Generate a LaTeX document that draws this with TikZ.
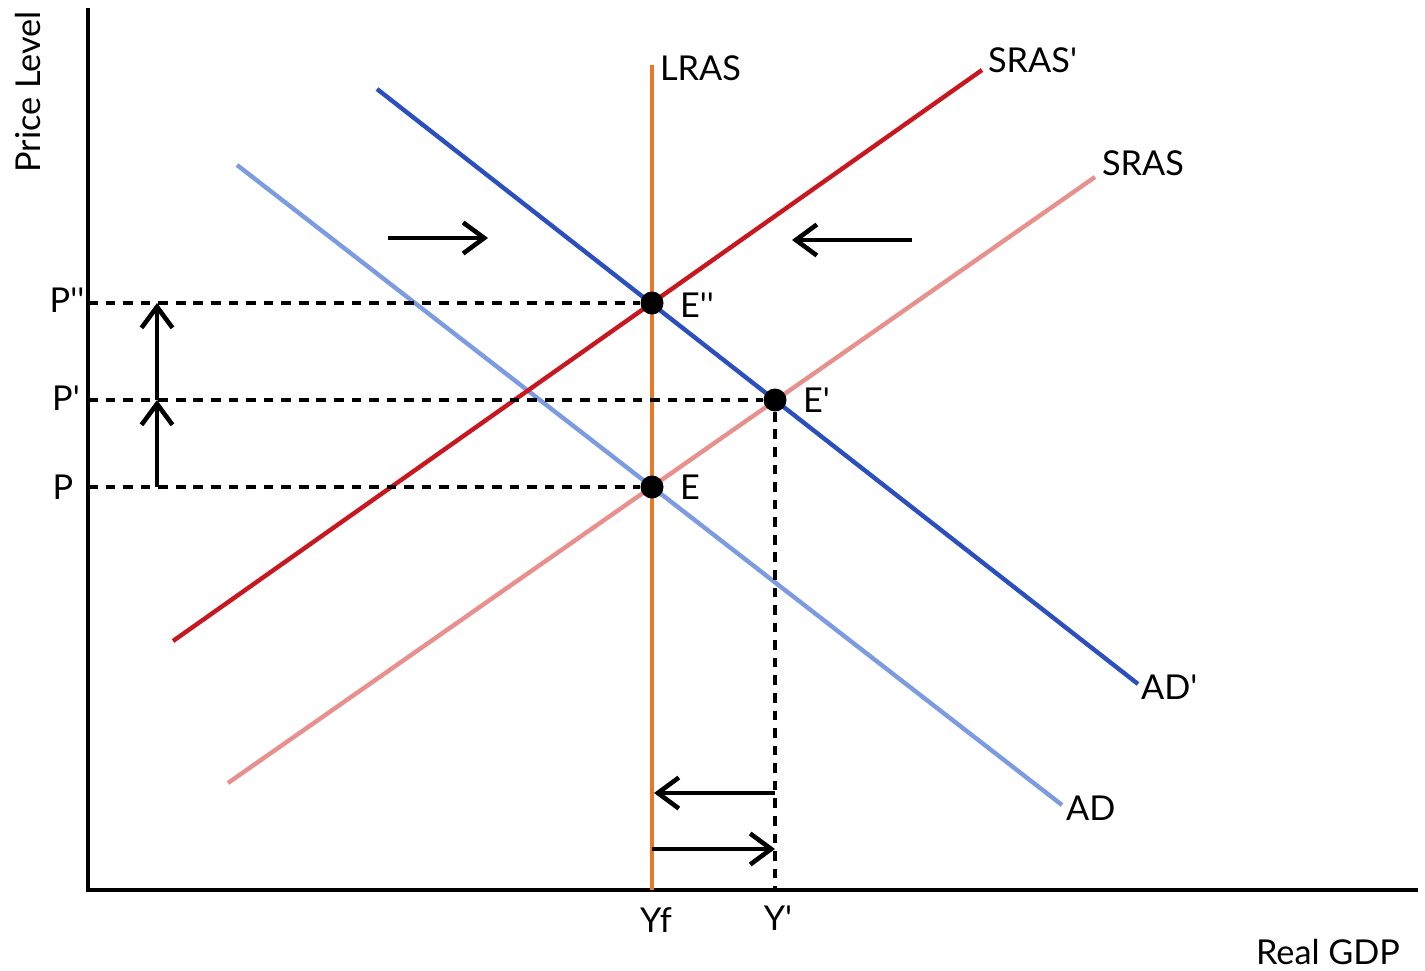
\documentclass[tikz,border=0pt]{standalone}
\usepackage{fontspec}
\setmainfont{Lato}
\usepackage{tikz}
\usetikzlibrary{arrows.meta, positioning}
\definecolor{Ink}{HTML}{000000}
\definecolor{SrasNew}{HTML}{C8171E}
\definecolor{SrasOld}{HTML}{E8908E}
\definecolor{AdNew}{HTML}{2B4FBE}
\definecolor{AdOld}{HTML}{7D9BE0}
\definecolor{Lras}{HTML}{E8782A}
\newcommand{\tick}{\textquotesingle}

\begin{document}
\begin{tikzpicture}[
  x=0.02cm, y=-0.02cm,
  font=\fontsize{19.5}{23}\selectfont,
  axis/.style={line width=2.6pt, draw=Ink},
  curve/.style={line width=2.5pt},
  guide/.style={line width=2.4pt, draw=Ink, dash pattern=on 5.5pt off 4.5pt},
  movearrow/.style={line width=2.6pt, draw=Ink, -{Straight Barb[length=4.2mm, width=6.2mm, line width=2.6pt]}},
  eq/.style={circle, fill=Ink, inner sep=0pt, minimum size=0.46cm},
  lbl/.style={anchor=west, inner sep=1pt}
]
\useasboundingbox (0,0) rectangle (1425,970);

% axes
\coordinate (origin) at (88,890);
\coordinate (ytop) at (88,8);
\coordinate (xend) at (1418,890);
\draw[axis] (ytop) -- (origin) -- (xend);
\node[rotate=90] (ylab) at (28,92) {Price Level};
\node (xlab) at (1328,952) {Real GDP};

% curves
\coordinate (sras0) at (228,783);
\coordinate (sras1) at (1095,177);
\coordinate (srasp0) at (173,641);
\coordinate (srasp1) at (982,70);
\coordinate (ad0) at (237,165);
\coordinate (ad1) at (1062,805);
\coordinate (adp0) at (377,89);
\coordinate (adp1) at (1138,684);
\coordinate (lras0) at (652,890);
\coordinate (lras1) at (652,65);
\draw[curve, SrasOld] (sras0) -- (sras1);
\draw[curve, AdOld] (ad0) -- (ad1);
\draw[curve, SrasNew] (srasp0) -- (srasp1);
\draw[curve, AdNew] (adp0) -- (adp1);
\draw[curve, Lras] (lras0) -- (lras1);

\node[lbl] (lrasLab) at (658,68) {LRAS};
\node[lbl] (srasPLab) at (986,60) {SRAS\tick};
\node[lbl] (srasLab) at (1100,163) {SRAS};
\node[lbl] (adPLab) at (1139,687) {AD\tick};
\node[lbl] (adLab) at (1064,808) {AD};

% equilibria
\node[eq] (Epp) at (652,303) {};
\node[eq] (Ep) at (775,400) {};
\node[eq] (E) at (652,487) {};
\node[lbl] (EppLab) at (678,305) {E\tick\tick};
\node[lbl] (EpLab) at (801,400) {E\tick};
\node[lbl] (ELab) at (678,487) {E};

% price levels
\coordinate (pPP) at (88,303);
\coordinate (pP) at (88,400);
\coordinate (p0) at (88,487);
\coordinate (yP) at (775,890);
\draw[guide] (pPP) -- (Epp);
\draw[guide] (pP) -- (Ep);
\draw[guide] (p0) -- (E);
\draw[guide] (Ep) -- (yP);
\node (PppLab) at (67,300) {P\tick\tick};
\node (PpLab) at (66,398) {P\tick};
\node (PLab) at (63,487) {P};
\node (YfLab) at (656,920) {Yf};
\node (YpLab) at (778,918) {Y\tick};

% shift arrows
\coordinate (up0) at (157,487);
\coordinate (up1) at (157,400);
\coordinate (up2) at (157,303);
\draw[movearrow] (up0) -- (up1);
\draw[movearrow] (up1) -- (up2);
\coordinate (adArr0) at (388,238);
\coordinate (adArr1) at (488,238);
\coordinate (srArr0) at (912,240);
\coordinate (srArr1) at (792,240);
\draw[movearrow] (adArr0) -- (adArr1);
\draw[movearrow] (srArr0) -- (srArr1);
\coordinate (back0) at (775,793);
\coordinate (back1) at (654,793);
\coordinate (out0) at (652,849);
\coordinate (out1) at (775,849);
\draw[movearrow] (back0) -- (back1);
\draw[movearrow] (out0) -- (out1);
\end{tikzpicture}
\end{document}
